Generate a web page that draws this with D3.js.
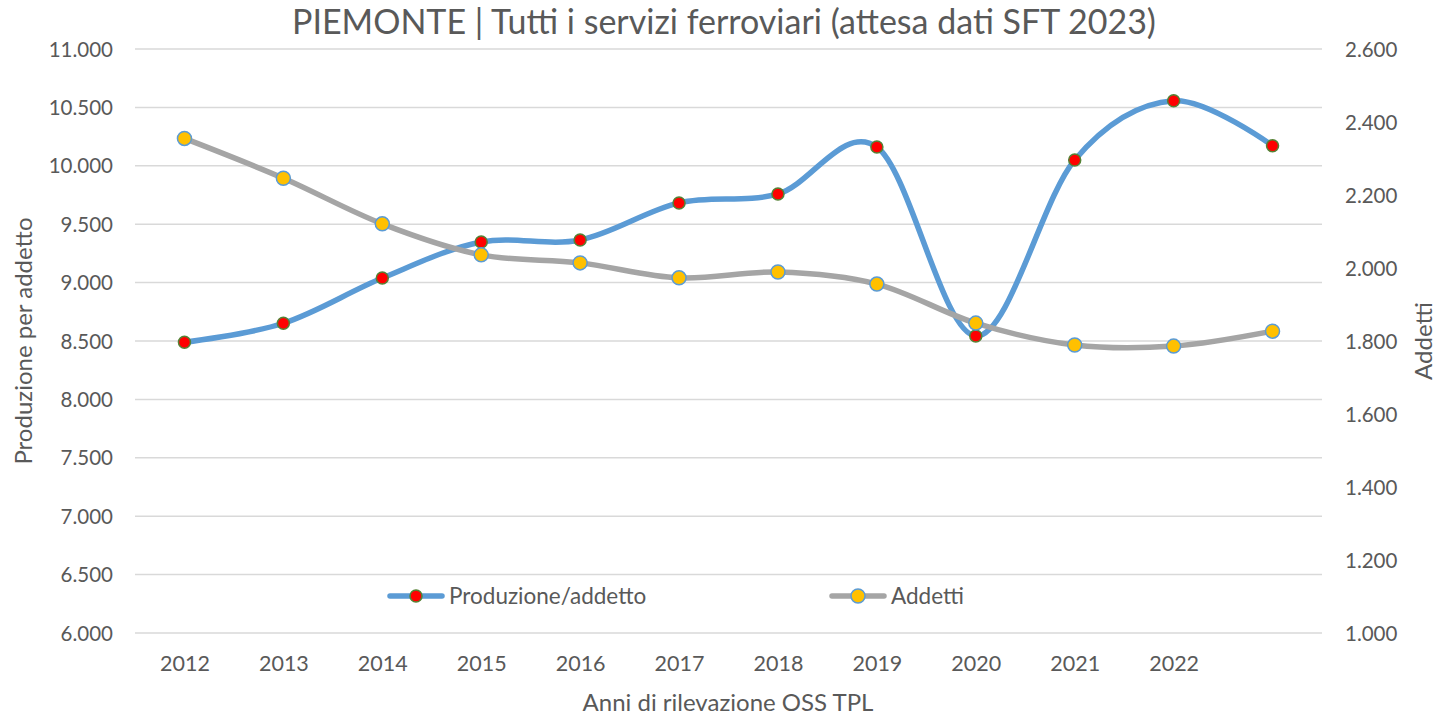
<!DOCTYPE html>
<html>
<head>
<meta charset="utf-8">
<script src="https://cdn.jsdelivr.net/npm/d3@7"></script>
<style>
  html, body { margin: 0; padding: 0; background: #fff; }
  svg { display: block; }
  text { font-family: Lato, "Liberation Sans", sans-serif; fill: #595959; }
</style>
</head>
<body>
<svg id="chart" width="1439" height="716"></svg>
<script>
// ---- data ----
const categories = ["2012","2013","2014","2015","2016","2017","2018","2019","2020","2021","2022","2023"];
const tickLabels = ["2012","2013","2014","2015","2016","2017","2018","2019","2020","2021","2022",""];
const produzionePerAddetto = [8489, 8652, 9039, 9348, 9365, 9682, 9759, 10161, 8543, 10050, 10557, 10172];
const addetti = [2355, 2246, 2121, 2036, 2014, 1973, 1989, 1956, 1849, 1789, 1786, 1827];
const leftTicks = [6000, 6500, 7000, 7500, 8000, 8500, 9000, 9500, 10000, 10500, 11000];
const rightTicks = [1000, 1200, 1400, 1600, 1800, 2000, 2200, 2400, 2600];
const titleText = "PIEMONTE | Tutti i servizi ferroviari (attesa dati SFT 2023)";
const leftAxisTitle = "Produzione per addetto";
const rightAxisTitle = "Addetti";
const xAxisTitle = "Anni di rilevazione OSS TPL";
const seriesNames = ["Produzione/addetto", "Addetti"];

// ---- layout ----
const plot = { left: 135, right: 1322, top: 49, bottom: 633 };
const svg = d3.select("#chart");
const fmt = v => d3.format(",")(v).replace(/,/g, ".");

const x = d3.scalePoint().domain(categories).range([plot.left, plot.right]).padding(0.5);
const yL = d3.scaleLinear().domain([6000, 11000]).range([plot.bottom, plot.top]);
const yR = d3.scaleLinear().domain([1000, 2600]).range([plot.bottom, plot.top]);

// gridlines
svg.append("g").selectAll("line").data(leftTicks).join("line")
  .attr("x1", plot.left).attr("x2", plot.right)
  .attr("y1", d => yL(d)).attr("y2", d => yL(d))
  .attr("stroke", "#D9D9D9").attr("stroke-width", 1.5);

// left axis
const gL = svg.append("g").attr("transform", `translate(${plot.left - 22},0)`)
  .call(d3.axisLeft(yL).tickValues(leftTicks).tickFormat(fmt).tickSize(0).tickPadding(0));
gL.select(".domain").remove();
gL.selectAll("text").attr("font-size", 20.5).attr("fill", "#595959").attr("dy", "0.35em")
  .style("font-family", "Lato, sans-serif");

// right axis
const gR = svg.append("g").attr("transform", `translate(${plot.right + 23},0)`)
  .call(d3.axisRight(yR).tickValues(rightTicks).tickFormat(fmt).tickSize(0).tickPadding(0));
gR.select(".domain").remove();
gR.selectAll("text").attr("font-size", 20.5).attr("fill", "#595959").attr("dy", "0.35em")
  .style("font-family", "Lato, sans-serif");

// x axis
const gX = svg.append("g").attr("transform", `translate(0,${plot.bottom})`)
  .call(d3.axisBottom(x).tickFormat((d, i) => tickLabels[i]).tickSize(0).tickPadding(23));
gX.select(".domain").remove();
gX.selectAll("text").attr("font-size", 21.5).attr("fill", "#595959")
  .style("font-family", "Lato, sans-serif");

// titles
svg.append("text").attr("x", 724).attr("y", 34).attr("text-anchor", "middle")
  .attr("font-size", 34).text(titleText);
svg.append("text").attr("transform", `translate(32,${(plot.top + plot.bottom) / 2}) rotate(-90)`)
  .attr("text-anchor", "middle").attr("font-size", 24).text(leftAxisTitle);
svg.append("text").attr("transform", `translate(1432,${(plot.top + plot.bottom) / 2}) rotate(-90)`)
  .attr("text-anchor", "middle").attr("font-size", 24).text(rightAxisTitle);
svg.append("text").attr("x", 728).attr("y", 711).attr("text-anchor", "middle")
  .attr("font-size", 24).text(xAxisTitle);

// lines
const curve = d3.curveCatmullRom.alpha(0);
const lineL = d3.line().x((d, i) => x(categories[i])).y(d => yL(d)).curve(curve);
const lineR = d3.line().x((d, i) => x(categories[i])).y(d => yR(d)).curve(curve);

svg.append("path").datum(produzionePerAddetto).attr("d", lineL)
  .attr("fill", "none").attr("stroke", "#5B9BD5").attr("stroke-width", 5.5).attr("stroke-linecap", "round");
svg.append("g").selectAll("circle").data(produzionePerAddetto).join("circle")
  .attr("cx", (d, i) => x(categories[i])).attr("cy", d => yL(d)).attr("r", 6)
  .attr("fill", "#FF0000").attr("stroke", "#548235").attr("stroke-width", 1.5);

svg.append("path").datum(addetti).attr("d", lineR)
  .attr("fill", "none").attr("stroke", "#A5A5A5").attr("stroke-width", 5.5).attr("stroke-linecap", "round");
svg.append("g").selectAll("circle").data(addetti).join("circle")
  .attr("cx", (d, i) => x(categories[i])).attr("cy", d => yR(d)).attr("r", 7)
  .attr("fill", "#FFC000").attr("stroke", "#5B9BD5").attr("stroke-width", 1.5);

// legend
const legend = [
  { name: seriesNames[0], x0: 390, line: "#5B9BD5", fill: "#FF0000", stroke: "#548235", r: 6 },
  { name: seriesNames[1], x0: 832, line: "#A5A5A5", fill: "#FFC000", stroke: "#5B9BD5", r: 7 }
];
const ly = 596;
const lg = svg.append("g").selectAll("g").data(legend).join("g");
lg.append("line").attr("x1", d => d.x0).attr("x2", d => d.x0 + 52).attr("y1", ly).attr("y2", ly)
  .attr("stroke", d => d.line).attr("stroke-width", 5.5).attr("stroke-linecap", "round");
lg.append("circle").attr("cx", d => d.x0 + 26).attr("cy", ly).attr("r", d => d.r)
  .attr("fill", d => d.fill).attr("stroke", d => d.stroke).attr("stroke-width", 1.5);
lg.append("text").attr("x", d => d.x0 + 59).attr("y", ly).attr("dy", "0.35em")
  .attr("font-size", 22.5).text(d => d.name);
</script>
</body>
</html>
